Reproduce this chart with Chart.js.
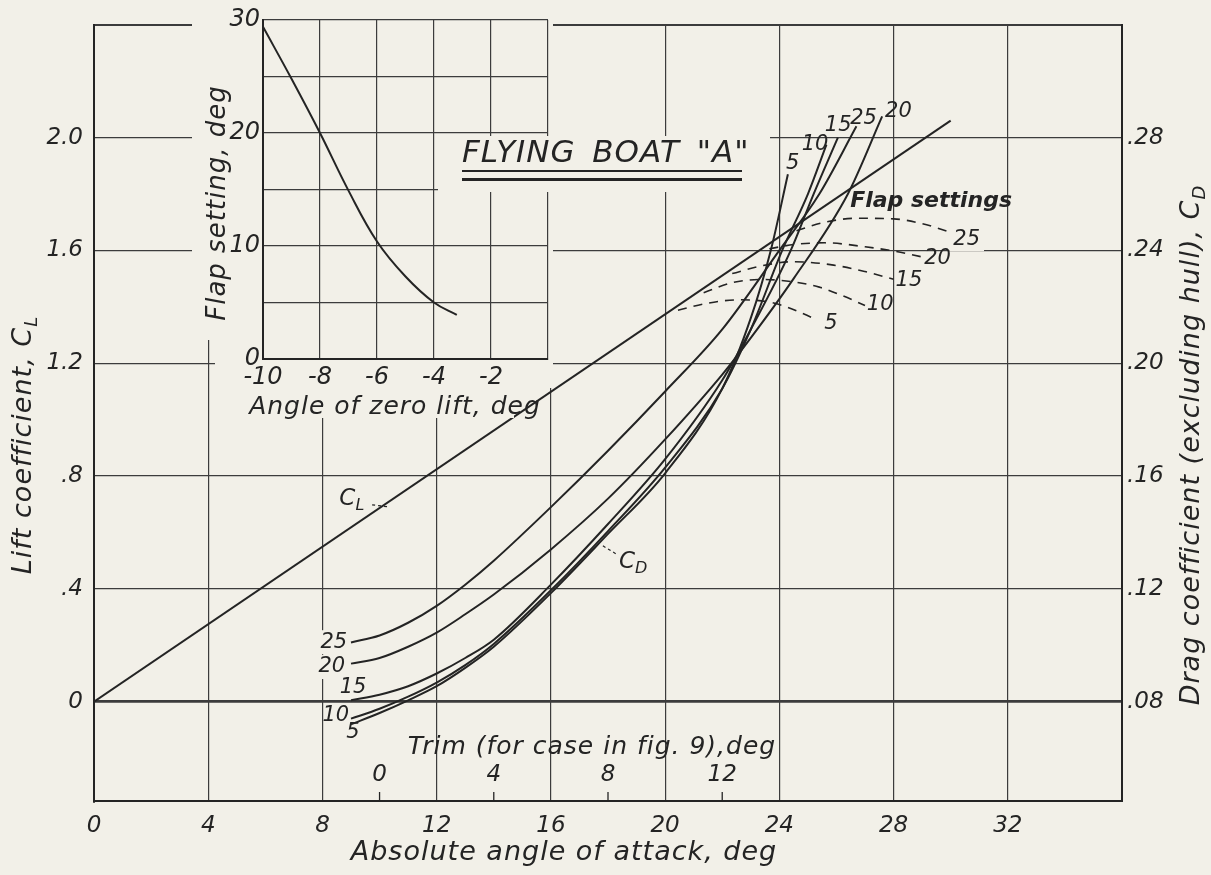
<!DOCTYPE html>
<html>
<head>
<meta charset="utf-8">
<script src="https://cdn.jsdelivr.net/npm/chart.js@4.4.1/dist/chart.umd.min.js"></script>
<style>
  html, body { margin: 0; padding: 0; background: #f2f0e8; }
  #wrap { position: relative; width: 1211px; height: 875px; overflow: hidden; }
  #main { position: absolute; left: 0; top: 0; }
  #inset { position: absolute; left: 185px; top: 0; }
  #title { position: absolute; left: 438px; top: 136px; width: 332px; height: 56px; background: #f2f0e8; }
  #ttext { position: absolute; left: 24px; top: 0; font: italic 31px "DejaVu Sans", sans-serif; line-height: 31px;
           color: #242424; letter-spacing: 1px; word-spacing: 6px; white-space: nowrap; }
  .ul { position: absolute; left: 24px; width: 280px; background: #242424; }
</style>
</head>
<body>
<div id="wrap">
  <canvas id="main" width="1211" height="875"></canvas>
  <canvas id="inset" width="385" height="430"></canvas>
  <div id="title">
    <div id="ttext">FLYING BOAT "A"</div>
    <div class="ul" style="top:34px;height:2px"></div>
    <div class="ul" style="top:42px;height:3px"></div>
  </div>
</div>
<script>
const PAPER = '#f2f0e8';
const INK = '#242424';
const GRIDC = '#3c3c3c';
const FONT = '"DejaVu Sans", "Liberation Sans", sans-serif';

// ---- main axes ----
const alphaTicks = [0, 4, 8, 12, 16, 20, 24, 28, 32, 36];
const alphaTickLabels = ['0', '4', '8', '12', '16', '20', '24', '28', '32', ''];
const liftTicks = [0, 0.4, 0.8, 1.2, 1.6, 2.0, 2.4];
const liftTickLabels = ['0', '.4', '.8', '1.2', '1.6', '2.0', ''];
const dragTicks = [0.08, 0.12, 0.16, 0.20, 0.24, 0.28, 0.32];
const dragTickLabels = ['.08', '.12', '.16', '.20', '.24', '.28', ''];
const trimTicks = [0, 4, 8, 12];
const trimTickLabels = ['0', '4', '8', '12'];
const trimAlphaAtZero = 10; // trim 0 sits at 10 deg absolute angle

// lift coefficient, same line for every flap setting
const liftAlpha = [0, 30.0];
const liftCoef = [0, 2.06];

// drag coefficient, one curve per flap setting
const drag5Alpha = [9, 10, 11, 12, 13, 14, 16, 18, 20, 22, 23, 23.7, 24.3];
const drag5 = [0.072, 0.076, 0.0805, 0.0855, 0.092, 0.0995, 0.1185, 0.1395, 0.161, 0.191, 0.216, 0.240, 0.267];
const drag10Alpha = [9, 10, 11, 12, 13, 14, 16, 18, 20, 22, 23, 24.1, 25.0, 25.65];
const drag10 = [0.074, 0.0775, 0.0818, 0.0868, 0.0930, 0.1005, 0.1195, 0.1405, 0.163, 0.191, 0.212, 0.240, 0.260, 0.2775];
const drag15Alpha = [9, 10, 11, 12, 13, 14, 16, 18, 20, 22, 23, 24.4, 25.2, 26.05];
const drag15 = [0.0805, 0.0825, 0.0855, 0.090, 0.0955, 0.102, 0.1215, 0.143, 0.166, 0.194, 0.212, 0.240, 0.260, 0.280];
const drag20Alpha = [9, 10, 11, 12, 13, 14, 16, 18, 20, 22, 23, 24.5, 26.4, 27.6];
const drag20 = [0.0935, 0.0955, 0.0995, 0.1045, 0.111, 0.118, 0.134, 0.152, 0.173, 0.196, 0.209, 0.230, 0.260, 0.2875];
const drag25Alpha = [9, 10, 11, 12, 13, 14, 16, 18, 20, 22, 24, 25.4, 26.7];
const drag25 = [0.101, 0.1035, 0.108, 0.114, 0.1215, 0.130, 0.149, 0.169, 0.190, 0.212, 0.240, 0.260, 0.284];

// lift past the straight part, per flap setting (dashed)
const stall5Alpha = [20.45, 21.5, 22.6, 23.6, 24.3, 25.3];
const stall5 = [1.388, 1.413, 1.425, 1.418, 1.398, 1.355];
const stall10Alpha = [21.35, 22.4, 23.4, 24.4, 25.4, 26.2, 27.0];
const stall10 = [1.45, 1.487, 1.497, 1.49, 1.47, 1.44, 1.405];
const stall15Alpha = [22.35, 23.4, 24.5, 25.9, 27.0, 28.0];
const stall15 = [1.518, 1.546, 1.56, 1.548, 1.525, 1.498];
const stall20Alpha = [23.65, 24.6, 25.6, 27.0, 28.0, 28.95];
const stall20 = [1.606, 1.622, 1.627, 1.613, 1.598, 1.578];
const stall25Alpha = [24.6, 25.6, 26.7, 28.0, 29.0, 29.95];
const stall25 = [1.67, 1.70, 1.714, 1.712, 1.695, 1.666];

// ---- inset: flap setting vs angle of zero lift ----
const insetAngleTicks = [-10, -8, -6, -4, -2, 0];
const insetAngleLabels = ['-10', '-8', '-6', '-4', '-2', ''];
const insetFlapTicks = [0, 5, 10, 15, 20, 25, 30];
const insetFlapLabels = ['0', '', '10', '', '20', '', '30'];
const zeroLiftAngle = [-10, -9, -8, -7, -6, -5, -4, -3.2];
const flapSetting = [29.4, 24.8, 20.0, 14.9, 10.4, 7.3, 5.0, 3.9];

// curve labels, placed in (alpha, C_L) units
const curveLabels = [
  { t: '25', x: 8.40, cl: 0.211, bg: true },
  { t: '20', x: 8.33, cl: 0.123, bg: true },
  { t: '15', x: 9.07, cl: 0.049 },
  { t: '10', x: 8.47, cl: -0.049 },
  { t: '5', x: 9.07, cl: -0.109 },
  { t: '5', x: 24.47, cl: 1.909 },
  { t: '10', x: 25.25, cl: 1.977 },
  { t: '15', x: 26.06, cl: 2.042 },
  { t: '25', x: 26.95, cl: 2.067 },
  { t: '20', x: 28.17, cl: 2.094 },
  { t: '25', x: 30.56, cl: 1.640, bg: true },
  { t: '20', x: 29.54, cl: 1.572 },
  { t: '15', x: 28.54, cl: 1.493 },
  { t: '10', x: 27.53, cl: 1.407 },
  { t: '5', x: 25.81, cl: 1.340 }
];

const pts = (xs, ys) => xs.map((x, i) => ({ x: x, y: ys[i] }));

function subText(ctx, main, sub, x, y, size, align, weight) {
  const f1 = `italic ${weight || ''} ${size}px ${FONT}`;
  const f2 = `italic ${weight || ''} ${Math.round(size * 0.68)}px ${FONT}`;
  ctx.font = f1;
  const w1 = ctx.measureText(main).width;
  ctx.font = f2;
  const w2 = sub ? ctx.measureText(sub).width : 0;
  const total = w1 + w2;
  const x0 = align === 'left' ? x : align === 'right' ? x - total : x - total / 2;
  ctx.textAlign = 'left';
  ctx.textBaseline = 'middle';
  ctx.fillStyle = INK;
  ctx.font = f1;
  ctx.fillText(main, x0, y);
  if (sub) {
    ctx.font = f2;
    ctx.fillText(sub, x0 + w1, y + size * 0.32);
  }
}

function rotatedText(ctx, main, sub, cx, cy, size) {
  ctx.save();
  ctx.translate(cx, cy);
  ctx.rotate(-Math.PI / 2);
  subText(ctx, main, sub, 0, 0, size, 'center');
  ctx.restore();
}

function leader(ctx, x1, y1, x2, y2) {
  ctx.save();
  ctx.strokeStyle = INK;
  ctx.lineWidth = 1.2;
  ctx.setLineDash([3, 3]);
  ctx.beginPath();
  ctx.moveTo(x1, y1);
  ctx.lineTo(x2, y2);
  ctx.stroke();
  ctx.restore();
}

const mainDecor = {
  id: 'mainDecor',
  beforeDatasetsDraw(chart) {
    const { ctx, scales: { x, y } } = chart;
    ctx.save();
    ctx.fillStyle = PAPER;
    ctx.font = `italic 21px ${FONT}`;
    curveLabels.filter(l => l.bg).forEach(l => {
      const w = ctx.measureText(l.t).width;
      const px = x.getPixelForValue(l.x), py = y.getPixelForValue(l.cl);
      ctx.fillRect(px - w / 2 - 4, py - 12, w + 8, 24);
    });
    ctx.restore();
  },
  afterDatasetsDraw(chart) {
    const { ctx, scales: { x, y } } = chart;
    ctx.save();
    curveLabels.forEach(l => {
      subText(ctx, l.t, '', x.getPixelForValue(l.x), y.getPixelForValue(l.cl), 21, 'center');
    });
    subText(ctx, 'Flap settings', '', x.getPixelForValue(26.48), y.getPixelForValue(1.773), 22, 'left', 'bold');
    subText(ctx, 'C', 'L', x.getPixelForValue(9.03), y.getPixelForValue(0.719), 23, 'center');
    leader(ctx, x.getPixelForValue(9.74), y.getPixelForValue(0.698), x.getPixelForValue(10.3), y.getPixelForValue(0.691));
    subText(ctx, 'C', 'D', x.getPixelForValue(18.88), y.getPixelForValue(0.497), 23, 'center');
    leader(ctx, x.getPixelForValue(18.27), y.getPixelForValue(0.525), x.getPixelForValue(17.75), y.getPixelForValue(0.557));
    ctx.restore();
  },
  afterDraw(chart) {
    const { ctx, scales: { x }, chartArea } = chart;
    ctx.save();
    // trim scale along the inside of the bottom edge
    ctx.strokeStyle = INK;
    ctx.lineWidth = 1.3;
    trimTicks.forEach((t, i) => {
      const px = x.getPixelForValue(t + trimAlphaAtZero);
      ctx.beginPath();
      ctx.moveTo(px, chartArea.bottom);
      ctx.lineTo(px, chartArea.bottom - 9);
      ctx.stroke();
      subText(ctx, trimTickLabels[i], '', px, chartArea.bottom - 26, 23, 'center');
    });
    ctx.letterSpacing = '1px';
    subText(ctx, 'Trim (for case in fig. 9),deg', '', 592, 747, 25, 'center');
    subText(ctx, 'Absolute angle of attack, deg', '', 564, 853, 27, 'center');
    rotatedText(ctx, 'Lift coefficient, C', 'L', 24, 445, 27);
    rotatedText(ctx, 'Drag coefficient (excluding hull), C', 'D', 1192, 445, 27);
    ctx.restore();
  }
};

const tickFont = { family: FONT, size: 23, style: 'italic' };
const edgeWidth = (edges) => (ctx) => (ctx.tick && edges.includes(ctx.tick.value)) ? 2 : 1.2;

const dragStyle = { yAxisID: 'y2', borderColor: INK, borderWidth: 2, pointRadius: 0, cubicInterpolationMode: 'monotone' };
const stallStyle = { yAxisID: 'y', borderColor: INK, borderWidth: 1.6, pointRadius: 0, borderDash: [9, 7], cubicInterpolationMode: 'monotone' };

new Chart(document.getElementById('main'), {
  type: 'line',
  data: {
    datasets: [
      { label: 'CL', data: pts(liftAlpha, liftCoef), yAxisID: 'y', borderColor: INK, borderWidth: 2, pointRadius: 0 },
      { label: 'CD 5', data: pts(drag5Alpha, drag5), ...dragStyle },
      { label: 'CD 10', data: pts(drag10Alpha, drag10), ...dragStyle },
      { label: 'CD 15', data: pts(drag15Alpha, drag15), ...dragStyle },
      { label: 'CD 20', data: pts(drag20Alpha, drag20), ...dragStyle },
      { label: 'CD 25', data: pts(drag25Alpha, drag25), ...dragStyle },
      { label: 'CL 5', data: pts(stall5Alpha, stall5), ...stallStyle },
      { label: 'CL 10', data: pts(stall10Alpha, stall10), ...stallStyle },
      { label: 'CL 15', data: pts(stall15Alpha, stall15), ...stallStyle },
      { label: 'CL 20', data: pts(stall20Alpha, stall20), ...stallStyle },
      { label: 'CL 25', data: pts(stall25Alpha, stall25), ...stallStyle }
    ]
  },
  options: {
    responsive: false,
    animation: false,
    layout: { padding: { top: 20, left: 0, right: 0, bottom: 0 } },
    plugins: { legend: { display: false }, tooltip: { enabled: false } },
    scales: {
      x: {
        type: 'linear', min: 0, max: 36,
        afterBuildTicks: s => { s.ticks = alphaTicks.map(v => ({ value: v })); },
        afterFit: s => { s.height = 74; },
        ticks: { callback: (v, i) => alphaTickLabels[i], font: tickFont, color: INK, padding: 11, maxRotation: 0, autoSkip: false },
        grid: { color: GRIDC, lineWidth: edgeWidth([36]), drawTicks: false },
        border: { color: INK, width: 2 }
      },
      y: {
        type: 'linear', position: 'left', min: -0.352, max: 2.4,
        afterBuildTicks: s => { s.ticks = liftTicks.map(v => ({ value: v })); },
        afterFit: s => { s.width = 94; },
        ticks: { callback: (v, i) => liftTickLabels[i], font: tickFont, color: INK, padding: 11, autoSkip: false },
        grid: { color: GRIDC, lineWidth: ctx => (ctx.tick && ctx.tick.value === 0) ? 2.8 : (ctx.tick && ctx.tick.value === 2.4 ? 2 : 1.2), drawTicks: false },
        border: { color: INK, width: 2 }
      },
      y2: {
        type: 'linear', position: 'right', min: 0.0448, max: 0.32,
        afterBuildTicks: s => { s.ticks = dragTicks.map(v => ({ value: v })); },
        afterFit: s => { s.width = 89; },
        ticks: { callback: (v, i) => dragTickLabels[i], font: tickFont, color: INK, padding: 5, autoSkip: false },
        grid: { drawOnChartArea: false, drawTicks: false },
        border: { color: INK, width: 2 }
      }
    }
  },
  plugins: [mainDecor]
});

// inset background hides the main grid behind its own axes and labels
const insetDecor = {
  id: 'insetDecor',
  beforeDraw(chart) {
    const { ctx } = chart;
    ctx.save();
    ctx.fillStyle = PAPER;
    ctx.fillRect(7, 22, 361, 318);
    ctx.fillRect(7, 8, 72, 14);
    ctx.fillRect(30, 340, 338, 48);
    ctx.fillRect(50, 388, 279, 30);
    ctx.restore();
  },
  afterDraw(chart) {
    const { ctx } = chart;
    ctx.save();
    ctx.letterSpacing = '1px';
    rotatedText(ctx, 'Flap setting, deg', '', 33, 203, 26);
    subText(ctx, 'Angle of zero lift, deg', '', 210, 407, 25, 'center');
    ctx.restore();
  }
};

const insetTickFont = { family: FONT, size: 24, style: 'italic' };

new Chart(document.getElementById('inset'), {
  type: 'line',
  data: {
    datasets: [{ label: 'flap', data: pts(zeroLiftAngle, flapSetting), borderColor: INK, borderWidth: 2, pointRadius: 0, tension: 0.4 }]
  },
  options: {
    responsive: false,
    animation: false,
    layout: { padding: { top: 20, right: 22, left: 0, bottom: 0 } },
    plugins: { legend: { display: false }, tooltip: { enabled: false } },
    scales: {
      x: {
        type: 'linear', min: -10, max: 0,
        afterBuildTicks: s => { s.ticks = insetAngleTicks.map(v => ({ value: v })); },
        afterFit: s => { s.height = 71; },
        ticks: { callback: (v, i) => insetAngleLabels[i], font: insetTickFont, color: INK, padding: 4, maxRotation: 0, autoSkip: false },
        grid: { color: GRIDC, lineWidth: 1.2, drawTicks: false },
        border: { color: INK, width: 2 }
      },
      y: {
        type: 'linear', min: 0, max: 30,
        afterBuildTicks: s => { s.ticks = insetFlapTicks.map(v => ({ value: v })); },
        afterFit: s => { s.width = 78; },
        ticks: { callback: (v, i) => insetFlapLabels[i], font: insetTickFont, color: INK, padding: 3, autoSkip: false },
        grid: { color: GRIDC, lineWidth: 1.2, drawTicks: false },
        border: { color: INK, width: 2 }
      }
    }
  },
  plugins: [insetDecor]
});
</script>
</body>
</html>
